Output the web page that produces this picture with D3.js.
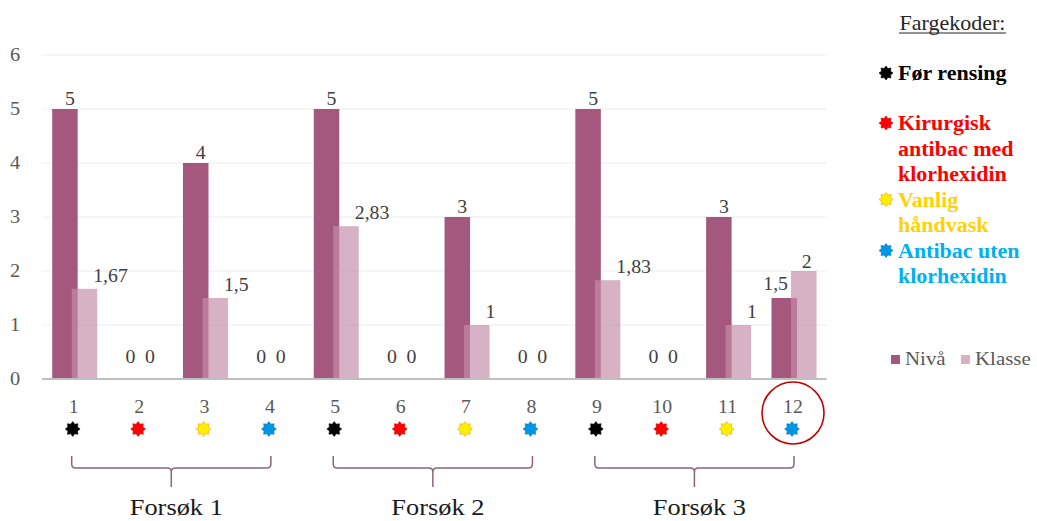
<!DOCTYPE html>
<html><head><meta charset="utf-8">
<script src="https://cdn.jsdelivr.net/npm/d3@7"></script>
<style>html,body{margin:0;padding:0;background:#fff;}svg{display:block;}</style>
</head><body>
<svg id="chart" width="1037" height="521"></svg>
<script>
// ---- data ----
const categories = ["1","2","3","4","5","6","7","8","9","10","11","12"];
const nivaValues = [5, 0, 4, 0, 5, 0, 3, 0, 5, 0, 3, 1.5];
const klasseValues = [1.67, 0, 1.5, 0, 2.83, 0, 1, 0, 1.83, 0, 1, 2];
const yTicks = [0, 1, 2, 3, 4, 5, 6];
const seriesNames = ["Nivå", "Klasse"];
const markerKind = [0, 1, 2, 3, 0, 1, 2, 3, 0, 1, 2, 3];
const groupNames = ["Forsøk 1", "Forsøk 2", "Forsøk 3"];
const groupFirst = ["1", "5", "9"];
const groupLast = ["4", "8", "12"];
const highlighted = ["12"];
const legendTitle = "Fargekoder:";
const legendLines = [["Før rensing"], ["Kirurgisk", "antibac med", "klorhexidin"], ["Vanlig", "håndvask"], ["Antibac uten", "klorhexidin"]];

// ---- styles ----
const textColors = ["#000000", "#ff0000", "#ffd200", "#00b0f0"];
const starFill = ["#000000", "#ff0000", "#ffee00", "#0096e6"];
const starStroke = ["#000000", "#e00000", "#f0a000", "#0070c0"];
const nivaColor = "#a5587e";
const klasseColor = "#c48ea8";
const SX = 1.1;
const serif = "'Liberation Serif','Times New Roman',serif";

const svg = d3.select("#chart");
const x = d3.scaleBand().domain(categories).range([42, 826.7]).padding(0);
const y = d3.scaleLinear().domain([0, 6]).range([379, 55]);
const barW = 25.5, klOff = 19.5;
const cx = c => x(c) + x.bandwidth() / 2;
const fmt = v => String(v).replace(".", ",");

function txt(g, px, py, s, opts) {
  opts = opts || {};
  return g.append("text")
    .attr("transform", `translate(${px},${py}) scale(${SX},1)`)
    .attr("font-family", serif)
    .attr("font-size", opts.size || 18)
    .attr("font-weight", opts.weight || "normal")
    .attr("fill", opts.fill || "#404040")
    .attr("text-anchor", opts.anchor || "middle")
    .text(s);
}

// gridlines
svg.append("g").selectAll("line").data(yTicks.filter(t => t > 0)).join("line")
  .attr("x1", 42).attr("x2", 826.7)
  .attr("y1", d => y(d)).attr("y2", d => y(d))
  .attr("stroke", "#ececec").attr("stroke-width", 1);

// y tick labels
const yl = svg.append("g");
yTicks.forEach(t => txt(yl, 15, y(t) + 6, String(t), {size: 18.5, fill: "#595959"}));

// bars
const bars = svg.append("g");
bars.selectAll("rect.n").data(categories).join("rect").attr("class", "n")
  .attr("x", c => cx(c) - 22.5).attr("width", barW)
  .attr("y", (c, i) => y(nivaValues[i])).attr("height", (c, i) => y(0) - y(nivaValues[i]))
  .attr("fill", nivaColor);
bars.selectAll("rect.k").data(categories).join("rect").attr("class", "k")
  .attr("x", c => cx(c) - 22.5 + klOff).attr("width", barW)
  .attr("y", (c, i) => y(klasseValues[i])).attr("height", (c, i) => y(0) - y(klasseValues[i]))
  .attr("fill", klasseColor).attr("fill-opacity", 0.68);

// axis line
svg.append("line").attr("x1", 42).attr("x2", 826.7).attr("y1", y(0)).attr("y2", y(0))
  .attr("stroke", "#bfbfbf").attr("stroke-width", 2);

// data labels
const lab = svg.append("g");
categories.forEach((c, i) => {
  const nv = nivaValues[i], kv = klasseValues[i];
  const nx = cx(c) - 22.5, kx = nx + klOff;
  if (nv === 0 && kv === 0) {
    txt(lab, nx + barW / 2, y(0) - 16, fmt(nv));
    txt(lab, kx + barW / 2, y(0) - 16, fmt(kv));
    return;
  }
  if (kv > nv) {
    txt(lab, kx - 3, y(nv) - 8, fmt(nv), {anchor: "end"});
    txt(lab, kx + barW / 2 + 3, y(kv) - 3, fmt(kv));
  } else {
    txt(lab, nx + barW / 2 + 5, y(nv) - 4, fmt(nv));
    txt(lab, kx + barW - 4, y(kv) - 7, fmt(kv), {anchor: "start"});
  }
});

// category labels + star markers
function starPath(r1, r2, n) {
  const pts = [];
  for (let k = 0; k < 2 * n; k++) {
    const a = Math.PI * k / n - Math.PI / 2;
    const r = k % 2 === 0 ? r1 : r2;
    pts.push([r * Math.cos(a), r * Math.sin(a)]);
  }
  return d3.line()(pts) + "Z";
}
const cl = svg.append("g");
categories.forEach((c, i) => {
  txt(cl, cx(c) - 1, 413, c, {size: 18, fill: "#595959"});
  cl.append("path").attr("d", starPath(7.4, 5.2, 8))
    .attr("transform", `translate(${cx(c) - 2},${429})`)
    .attr("fill", starFill[markerKind[i]]).attr("stroke", starStroke[markerKind[i]]).attr("stroke-width", 0.6);
});

// highlight circle
highlighted.forEach(c => {
  svg.append("circle").attr("cx", cx(c) - 1).attr("cy", 413).attr("r", 31)
    .attr("fill", "none").attr("stroke", "#c00000").attr("stroke-width", 1.6);
});

// brackets
const br = svg.append("g");
groupNames.forEach((g, i) => {
  const x1 = cx(groupFirst[i]) - 3, x2 = cx(groupLast[i]), m = (x1 + x2) / 2;
  const top = 456, h = 468, bot = 487, r = 4;
  const d = `M${x1},${top} L${x1},${h - r} Q${x1},${h} ${x1 + r},${h} L${m - r},${h} Q${m},${h} ${m},${h + r} L${m},${bot}` +
            ` M${m},${h + r} Q${m},${h} ${m + r},${h} L${x2 - r},${h} Q${x2},${h} ${x2},${h - r} L${x2},${top}`;
  br.append("path").attr("d", d).attr("fill", "none").attr("stroke", "#8a667c").attr("stroke-width", 1.5);
  txt(br, m + 5, 515, g, {size: 24, fill: "#1a1a1a"});
});

// series legend
const sl = svg.append("g");
[[891, seriesNames[0], nivaColor, 1], [961, seriesNames[1], klasseColor, 0.68]].forEach(([lx, name, col, op]) => {
  sl.append("rect").attr("x", lx).attr("y", 355).attr("width", 9).attr("height", 9).attr("fill", col).attr("fill-opacity", op);
  txt(sl, lx + 14, 365, name, {size: 19, fill: "#595959", anchor: "start"});
});

// colour code legend
const lg = svg.append("g");
txt(lg, 952.5, 30, legendTitle, {size: 20, fill: "#262626"});
lg.append("line").attr("x1", 899).attr("x2", 1006).attr("y1", 33).attr("y2", 33).attr("stroke", "#262626").attr("stroke-width", 1);
const firstBase = [80, 130, 206.5, 257.5];
legendLines.forEach((lines, k) => {
  lg.append("path").attr("d", starPath(7, 4.9, 8))
    .attr("transform", `translate(886,${firstBase[k] - 7})`)
    .attr("fill", starFill[k]).attr("stroke", starStroke[k]).attr("stroke-width", 0.6);
  lines.forEach((s, j) => {
    txt(lg, 898, firstBase[k] + j * 25.5, s, {size: 20, weight: "bold", fill: textColors[k], anchor: "start"});
  });
});
</script>
</body></html>
